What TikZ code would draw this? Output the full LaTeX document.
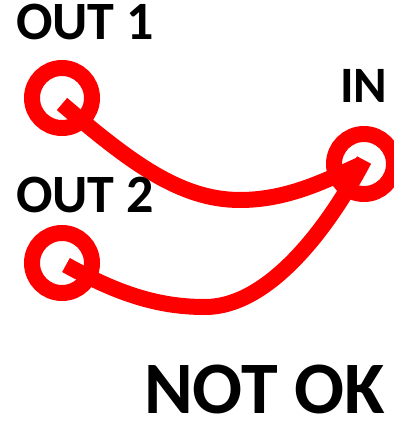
\documentclass[tikz,border=0pt]{standalone}
\usepackage{fontspec}
\setmainfont{Carlito}
\begin{document}
\begin{tikzpicture}[x=1pt,y=-1pt,
  ring/.style={circle,draw=red,line width=16pt,minimum size=60pt,inner sep=0pt},
  wire/.style={draw=red,line width=16pt,line cap=butt},
  lbl/.style={font=\bfseries\fontsize{54}{54}\selectfont,anchor=base west,inner sep=0pt,text depth=0pt,text=black},
  inlbl/.style={font=\bfseries\fontsize{51}{51}\selectfont,anchor=base west,inner sep=0pt,text depth=0pt,text=black},
  biglbl/.style={font=\bfseries\fontsize{74}{74}\selectfont,anchor=base west,inner sep=0pt,text depth=0pt,text=black}]
\useasboundingbox (0,0) rectangle (393,422);
% rings
\node[ring] (o1) at (62,98) {};
\node[ring] (o2) at (62,263) {};
\node[ring] (in) at (364,164) {};
% wire end points
\coordinate (s1) at (62,104);
\coordinate (s2) at (66,265);
\coordinate (e1) at (360,165);
\coordinate (e2) at (364,160);
\coordinate (b1) at (240,200);
\coordinate (b2) at (205,307);
% wires
\draw[wire] (s1) .. controls (130,162) and (180,200) .. (b1)
  .. controls (290,200) and (330,178) .. (e1);
\draw[wire] (s2) .. controls (120,295) and (160,307) .. (b2)
  .. controls (270,307) and (330,225) .. (e2);
% labels
\node[lbl] (l1) at (16,40) {OUT 1};
\node[lbl] (l2) at (16,212) {OUT 2};
\node[inlbl] (lin) at (340,103) {IN};
\node[biglbl] (nok) at (144,413) {NOT OK};
\end{tikzpicture}
\end{document}
